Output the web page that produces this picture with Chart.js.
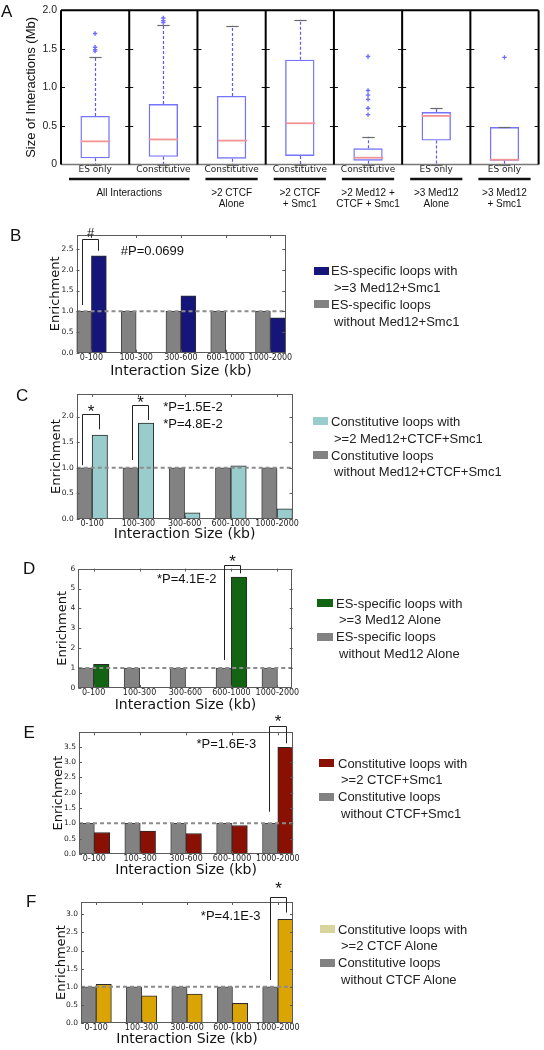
<!DOCTYPE html>
<html>
<head>
<meta charset="utf-8">
<script src="https://cdn.jsdelivr.net/npm/chart.js@4.4.1/dist/chart.umd.min.js"></script>
<style>
  body { margin: 0; width: 544px; height: 1050px; position: relative; background: #fff; overflow: hidden;
         font-family: "Liberation Sans", Arial, sans-serif; color: #222; }
  .letter { position: absolute; font-size: 17px; line-height: 20px; color: #111; }
  .legtxt { position: absolute; font-size: 13px; line-height: 16.8px; white-space: nowrap; color: #222; }
  .sw { position: absolute; width: 15.5px; height: 8px; }
</style>
</head>
<body>
<script>
// ---- panel A: interaction sizes (Mb) ----
const boxLabels = ['ES only', 'Constitutive', 'Constitutive', 'Constitutive', 'Constitutive', 'ES only', 'ES only'];
const boxQ1 = [0.08, 0.10, 0.075, 0.11, 0.05, 0.31, 0.05];
const boxMedian = [0.30, 0.325, 0.31, 0.535, 0.088, 0.63, 0.062];
const boxQ3 = [0.63, 0.785, 0.89, 1.36, 0.21, 0.68, 0.485];
const whiskerLow = [0, 0, 0, 0, 0, 0, 0];
const whiskerHigh = [1.39, 1.81, 1.80, 1.88, 0.36, 0.73, 0.485];
const outliers = [[1.70, 1.52, 1.49, 1.47], [1.90, 1.865, 1.84], [], [], [1.40, 0.96, 0.90, 0.845, 0.73, 0.647], [], [1.39]];
const groupNames = [['All Interactions'], ['>2 CTCF', 'Alone'], ['>2 CTCF', '+ Smc1'], ['>2 Med12 +', 'CTCF + Smc1'], ['>3 Med12', 'Alone'], ['>3 Med12', '+ Smc1']];
const groupSpans = [[0, 1], [2, 2], [3, 3], [4, 4], [5, 5], [6, 6]];
const sizeTicks = [0, 0.5, 1.0, 1.5, 2.0];

// ---- panels B-F: enrichment per interaction size ----
const sizeBins = ['0-100', '100-300', '300-600', '600-1000', '1000-2000'];
const baseline = [1, 1, 1, 1, 1];
const enrichB = [2.34, 0, 1.37, 0, 0.84];
const enrichC = [1.64, 1.87, 0.12, 1.04, 0.20];
const enrichD = [1.19, 0, 0, 5.58, 0];
const enrichE = [0.70, 0.75, 0.67, 0.93, 3.48];
const enrichF = [1.07, 0.75, 0.80, 0.54, 2.86];

const barW = 1 / 3;          // bar width in category units
const xMax = 4 + 2 * barW;   // five pairs, tight axis
const GRAY = '#828282';

Chart.defaults.font.family = '"DejaVu Sans", sans-serif';
Chart.defaults.color = '#222';

function addCanvas(left, top, w, h) {
  const c = document.createElement('canvas');
  c.width = w; c.height = h;
  c.style.cssText = `position:absolute;left:${left}px;top:${top}px;width:${w}px;height:${h}px`;
  document.body.appendChild(c);
  return c;
}
function addDiv(cls, left, top, text, extra) {
  const d = document.createElement('div');
  d.className = cls;
  d.style.left = left + 'px'; d.style.top = top + 'px';
  if (extra) Object.assign(d.style, extra);
  d.textContent = text;
  document.body.appendChild(d);
  return d;
}
function crisp(v) { return Math.round(v) + 0.5; }
function centerText(ctx, s, px, py, size, align) {
  ctx.font = `${size}px "Liberation Sans", Arial, sans-serif`;
  ctx.textAlign = align; ctx.textBaseline = 'alphabetic';
  const m = ctx.measureText(s);
  ctx.fillText(s, px, py + (m.actualBoundingBoxAscent - m.actualBoundingBoxDescent) / 2);
}

// ---------- Panel A ----------
const boxParts = {
  id: 'boxParts',
  afterDatasetsDraw(chart) {
    const { ctx, chartArea: a, scales: { x, y } } = chart;
    const seg = (x1, y1, x2, y2) => { ctx.beginPath(); ctx.moveTo(x1, y1); ctx.lineTo(x2, y2); ctx.stroke(); };
    ctx.save();
    boxMedian.forEach((m, i) => {
      const cx = crisp(x.getPixelForValue(i));
      const half = x.getPixelForValue(i + 0.215) - x.getPixelForValue(i);
      const cap = x.getPixelForValue(i + 0.09) - x.getPixelForValue(i);
      ctx.lineWidth = 1.2; ctx.strokeStyle = '#5a5aff'; ctx.setLineDash([3, 2]);
      seg(cx, y.getPixelForValue(boxQ3[i]), cx, y.getPixelForValue(whiskerHigh[i]));
      seg(cx, y.getPixelForValue(boxQ1[i]), cx, y.getPixelForValue(whiskerLow[i]));
      ctx.setLineDash([]); ctx.strokeStyle = '#6a6a6a'; ctx.lineWidth = 1.2;
      [whiskerHigh[i], whiskerLow[i]].forEach(v => {
        const py = crisp(y.getPixelForValue(v));
        seg(cx - cap, py, cx + cap, py);
      });
      ctx.strokeStyle = '#f39494'; ctx.lineWidth = 1.8;
      const py = y.getPixelForValue(m);
      seg(cx - half, py, cx + half, py);
    });
    // sub-panel frames
    ctx.strokeStyle = '#777'; ctx.lineWidth = 1.5;
    seg(a.left, a.bottom, a.right, a.bottom);
    ctx.strokeStyle = '#111'; ctx.lineWidth = 1;
    boxLabels.forEach((_, i) => {
      [i - 0.5, i + 0.5].forEach(b => {
        const bx = x.getPixelForValue(b);
        sizeTicks.slice(1, -1).forEach(t => {
          const py = crisp(y.getPixelForValue(t));
          seg(bx, py, bx + (b < i ? 4 : -4), py);
        });
      });
    });
    ctx.strokeStyle = '#000'; ctx.lineWidth = 2;
    seg(a.left, a.top, a.right, a.top);
    for (let b = -0.5; b <= boxLabels.length - 0.5; b++) {
      const bx = x.getPixelForValue(b);
      seg(bx, a.top, bx, a.bottom);
    }
    ctx.restore();
  },
  afterDraw(chart) {
    const { ctx, chartArea: a, scales: { x } } = chart;
    ctx.save();
    ctx.strokeStyle = '#111'; ctx.lineWidth = 2.5; ctx.fillStyle = '#111';
    groupSpans.forEach(([s, e], g) => {
      const x1 = x.getPixelForValue(s - 0.5) + 8, x2 = x.getPixelForValue(e + 0.5) - 8;
      ctx.beginPath(); ctx.moveTo(x1, a.bottom + 14.5); ctx.lineTo(x2, a.bottom + 14.5); ctx.stroke();
      groupNames[g].forEach((t, k) => centerText(ctx, t, (x1 + x2) / 2, a.bottom + 27.5 + k * 10.5, 10, 'center'));
    });
    ctx.restore();
  }
};

const outlierPoints = [];
outliers.forEach((list, i) => list.forEach(v => outlierPoints.push({ x: i, y: v })));

new Chart(addCanvas(0, 0, 544, 215), {
  type: 'bar',
  data: {
    datasets: [
      {
        data: boxQ1.map((q, i) => ({ x: i, y: [q, boxQ3[i]] })),
        backgroundColor: 'rgba(0,0,0,0)', borderColor: '#7474ff', borderWidth: 1.4, borderSkipped: false,
        barPercentage: 0.43, categoryPercentage: 1, grouped: false
      },
      {
        type: 'scatter', data: outlierPoints, pointStyle: 'cross', pointRadius: 2.2,
        borderColor: '#6f6fff', borderWidth: 1.4
      }
    ]
  },
  options: {
    responsive: false, animation: false,
    layout: { padding: { left: 0, top: 9, right: 4, bottom: 215 - 164.5 - 12 } },
    plugins: { legend: { display: false }, tooltip: { enabled: false } },
    scales: {
      x: {
        type: 'linear', offset: false, min: -0.5, max: boxLabels.length - 0.5,
        afterFit: s => { s.height = 12; },
        afterBuildTicks: s => { s.ticks = boxLabels.map((_, i) => ({ value: i })); },
        ticks: { autoSkip: false, maxRotation: 0, padding: 0, font: { size: 9 }, color: '#222', callback: (v, i) => boxLabels[i] },
        grid: { display: false, drawTicks: false }, border: { display: false }
      },
      y: {
        min: 0, max: 2,
        afterFit: s => { s.width = 61; },
        afterBuildTicks: s => { s.ticks = sizeTicks.map(v => ({ value: v })); },
        ticks: { padding: 4, font: { size: 10.5, family: '"Liberation Sans", Arial, sans-serif' }, color: '#222',
                 callback: v => v === 0 ? '0' : v.toFixed(1) },
        grid: { display: false, drawTicks: false }, border: { display: false },
        title: { display: true, text: 'Size of Interactions (Mb)', color: '#111',
                 font: { size: 13, family: '"Liberation Sans", Arial, sans-serif' }, padding: { top: 24, bottom: 0 } }
      }
    }
  },
  plugins: [boxParts]
});
addDiv('letter', 1, 2, 'A');

// ---------- Panels B-F ----------
const framePlugin = {
  id: 'frame',
  afterDatasetsDraw(chart) {
    const { ctx, chartArea: a, scales: { x, y } } = chart;
    ctx.save();
    ctx.strokeStyle = '#5a5a5a'; ctx.lineWidth = 1;
    ctx.strokeRect(crisp(a.left), crisp(a.top), Math.round(a.width) - 1, Math.round(a.height) - 1);
    ctx.beginPath();
    y.ticks.forEach(t => {
      const py = crisp(y.getPixelForValue(t.value));
      ctx.moveTo(a.left, py); ctx.lineTo(a.left + 3, py);
      ctx.moveTo(a.right, py); ctx.lineTo(a.right - 3, py);
    });
    x.ticks.forEach(t => {
      const px = crisp(x.getPixelForValue(t.value));
      ctx.moveTo(px, a.top); ctx.lineTo(px, a.top + 3);
      ctx.moveTo(px, a.bottom); ctx.lineTo(px, a.bottom - 3);
    });
    ctx.stroke();
    ctx.restore();
  }
};

function notesPlugin(notes) {
  return {
    id: 'notes',
    afterDraw(chart) {
      const { ctx, scales: { x, y } } = chart;
      ctx.save();
      ctx.strokeStyle = '#222'; ctx.lineWidth = 1; ctx.fillStyle = '#111';
      notes.brackets.forEach(b => {
        const x1 = crisp(x.getPixelForValue(b.x1)), x2 = crisp(x.getPixelForValue(b.x2));
        const yt = crisp(y.getPixelForValue(b.yTop));
        ctx.beginPath();
        ctx.moveTo(x1, y.getPixelForValue(b.yL)); ctx.lineTo(x1, yt);
        ctx.lineTo(x2, yt); ctx.lineTo(x2, y.getPixelForValue(b.yR));
        ctx.stroke();
        centerText(ctx, b.mark, (x1 + x2) / 2, y.getPixelForValue(b.markY), b.mark === '*' ? 17 : 13, 'center');
      });
      notes.texts.forEach(t => centerText(ctx, t.text, x.getPixelForValue(t.x), y.getPixelForValue(t.y), 13, t.align));
      ctx.restore();
    }
  };
}

function enrichmentPanel(p) {
  const [L, R, T, B] = p.area;
  const cTop = Math.floor(T - 34), cW = 300;
  const cH = Math.ceil(p.titleY + 10 - cTop);
  const xAxisH = p.titleY + 8.4 - B;
  const thick = (R - L) / xMax * barW;   // one bar = barW of the axis
  new Chart(addCanvas(0, cTop, cW, cH), {
    type: 'bar',
    data: {
      datasets: [
        {
          data: baseline.map((v, i) => ({ x: i + barW / 2, y: v })),
          backgroundColor: GRAY, borderColor: '#444', borderWidth: 1, grouped: false,
          barThickness: thick, order: 2
        },
        {
          data: p.values.map((v, i) => ({ x: i + 1.5 * barW, y: v })),
          backgroundColor: p.color, borderColor: '#2a2a2a', borderWidth: 1, grouped: false,
          barThickness: thick, order: 1
        },
        {
          type: 'line', data: [{ x: 0, y: 1 }, { x: xMax, y: 1 }],
          borderColor: '#8c8c8c', borderWidth: 2, borderDash: [4, 3], pointRadius: 0, order: -1
        }
      ]
    },
    options: {
      responsive: false, animation: false,
      layout: { padding: { left: 0, top: T - cTop, right: cW - R, bottom: cH - (B - cTop) - xAxisH } },
      plugins: { legend: { display: false }, tooltip: { enabled: false } },
      scales: {
        x: {
          type: 'linear', offset: false, min: 0, max: xMax,
          afterFit: s => { s.height = xAxisH; },
          afterBuildTicks: s => { s.ticks = sizeBins.map((_, i) => ({ value: i + barW })); },
          ticks: { autoSkip: false, maxRotation: 0, padding: Math.max(0, p.tickY - B - 4.8), font: { size: 8 }, color: '#222',
                   callback: (v, i) => sizeBins[i] },
          grid: { display: false, drawTicks: false }, border: { display: false },
          title: { display: true, text: 'Interaction Size (kb)', font: { size: 14 }, color: '#111', padding: 0 }
        },
        y: {
          min: 0, max: p.yMax,
          afterFit: s => { s.width = L; },
          ticks: { stepSize: p.step, includeBounds: false, padding: 3, font: { size: 7.5 }, color: '#222',
                   callback: v => p.step < 1 ? v.toFixed(1) : String(v) },
          grid: { display: false, drawTicks: false }, border: { display: false },
          title: { display: true, text: 'Enrichment', font: { size: 13 }, color: '#111', padding: { top: p.enrichX - 7.8, bottom: 0 } }
        }
      }
    },
    plugins: [framePlugin, notesPlugin(p.notes)]
  });

  // legend as text beside the plot
  const [sx, tx, y1] = p.legendAt;
  p.legendLines.forEach((pair, k) => {
    const yc = y1 + k * 33.6;
    addDiv('sw', sx, yc - 5, '', { background: k === 0 ? (p.swatch || p.color) : GRAY });
    addDiv('legtxt', tx, yc - 8.4, pair[0]);
    addDiv('legtxt', tx + 3, yc + 16.8 - 8.4, pair[1]);
  });
  addDiv('letter', p.letterAt[0], p.letterAt[1], p.letter);
}

enrichmentPanel({
  letter: 'B', letterAt: [10, 226], values: enrichB, color: '#16167a',
  area: [76.5, 285.3, 235, 352.7], yMax: 2.84, step: 0.5, tickY: 357.7, titleY: 371.7, enrichX: 56,
  legendAt: [313.5, 331, 271.7],
  legendLines: [['ES-specific loops with', '>=3 Med12+Smc1'], ['ES-specific loops', 'without Med12+Smc1']],
  notes: {
    brackets: [{ x1: 0.12, x2: 0.49, yL: 1.15, yTop: 2.75, yR: 2.46, mark: '#', markY: 2.90 }],
    texts: [{ text: '#P=0.0699', x: 0.99, y: 2.46, align: 'left' }]
  }
});

enrichmentPanel({
  letter: 'C', letterAt: [16, 386], values: enrichC, color: '#99cccc',
  area: [76.7, 292.5, 394, 519], yMax: 2.44, step: 0.5, tickY: 523.3, titleY: 534, enrichX: 56.7,
  legendAt: [312.5, 331, 422.3],
  legendLines: [['Constitutive loops with', '>=2 Med12+CTCF+Smc1'], ['Constitutive loops', 'without Med12+CTCF+Smc1']],
  notes: {
    brackets: [
      { x1: 0.11, x2: 0.48, yL: 1.05, yTop: 2.04, yR: 1.75, mark: '*', markY: 2.17 },
      { x1: 1.19, x2: 1.54, yL: 1.15, yTop: 2.23, yR: 1.93, mark: '*', markY: 2.34 }
    ],
    texts: [
      { text: '*P=1.5E-2', x: 1.87, y: 2.19, align: 'left' },
      { text: '*P=4.8E-2', x: 1.87, y: 1.87, align: 'left' }
    ]
  }
});

enrichmentPanel({
  letter: 'D', letterAt: [23, 559], values: enrichD, color: '#126312',
  area: [78.3, 295.5, 568.6, 688], yMax: 6, step: 1, tickY: 693.3, titleY: 705.7, enrichX: 63,
  legendAt: [317, 336, 604],
  legendLines: [['ES-specific loops with', '>=3 Med12 Alone'], ['ES-specific loops', 'without Med12 Alone']],
  notes: {
    brackets: [{ x1: 3.18, x2: 3.51, yL: 1.41, yTop: 6.18, yR: 5.76, mark: '*', markY: 6.55 }],
    texts: [{ text: '*P=4.1E-2', x: 3.01, y: 5.51, align: 'right' }]
  }
});

enrichmentPanel({
  letter: 'E', letterAt: [23.5, 723], values: enrichE, color: '#8b1004',
  area: [79, 295.5, 732.3, 854], yMax: 3.97, step: 0.5, tickY: 858.5, titleY: 870.7, enrichX: 58.3,
  legendAt: [318.7, 338, 764],
  legendLines: [['Constitutive loops with', '>=2 CTCF+Smc1'], ['Constitutive loops', 'without CTCF+Smc1']],
  notes: {
    brackets: [{ x1: 4.15, x2: 4.51, yL: 1.38, yTop: 4.17, yR: 3.61, mark: '*', markY: 4.45 }],
    texts: [{ text: '*P=1.6E-3', x: 3.86, y: 3.61, align: 'right' }]
  }
});

enrichmentPanel({
  letter: 'F', letterAt: [26, 892], values: enrichF, color: '#d9a404', swatch: '#d9d49c',
  area: [81, 295.5, 902, 1023], yMax: 3.34, step: 0.5, tickY: 1027.5, titleY: 1039.6, enrichX: 61.7,
  legendAt: [319.8, 338, 930],
  legendLines: [['Constitutive loops with', '>=2 CTCF Alone'], ['Constitutive loops', 'without CTCF Alone']],
  notes: {
    brackets: [{ x1: 4.15, x2: 4.51, yL: 1.19, yTop: 3.49, yR: 3.05, mark: '*', markY: 3.80 }],
    texts: [{ text: '*P=4.1E-3', x: 3.95, y: 2.98, align: 'right' }]
  }
});
</script>
</body>
</html>
